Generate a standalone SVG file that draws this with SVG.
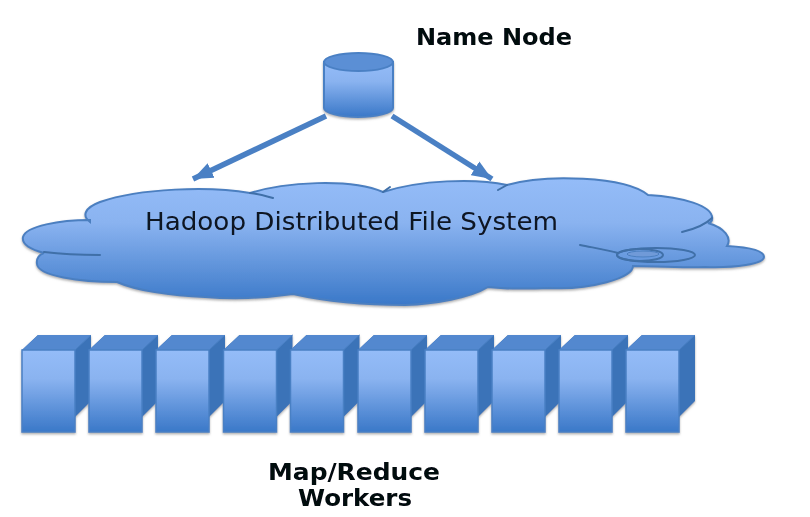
<svg xmlns="http://www.w3.org/2000/svg" xmlns:xlink="http://www.w3.org/1999/xlink" width="810" height="517" viewBox="0 0 810 517">
<style>
text{font-family:"DejaVu Sans","Liberation Sans",sans-serif;fill:#0b1320}
.b{font-weight:700;font-size:23px;fill:#05070c}
.l{fill:none;stroke:#3f6fa8;stroke-width:2;stroke-linecap:round}
.c{fill:none;stroke:#4a80c4;stroke-width:5.5}
</style>
<defs>
<linearGradient id="g" x1="0" y1="0" x2="0" y2="1"><stop offset="0" stop-color="#94bcf8"/><stop offset=".35" stop-color="#8ab3f0"/><stop offset="1" stop-color="#3a78c8"/></linearGradient>
<filter id="s" x="-5%" y="-5%" width="110%" height="115%"><feDropShadow dx="0" dy="1.5" stdDeviation="1.2" flood-color="#777" flood-opacity=".6"/></filter>
<filter id="bl" x="-5%" y="-5%" width="110%" height="110%"><feGaussianBlur stdDeviation=".5"/></filter>
<marker id="a" markerUnits="userSpaceOnUse" markerWidth="22" markerHeight="18" refX="20" refY="9" orient="auto"><path d="M0 1L20 9L0 17Z" fill="#4a80c4"/></marker>
<g id="srv"><path d="M0 15L16 0H69V66L53 82V15Z" fill="#3b73b8"/><path d="M0 15L16 0H69L53 15Z" fill="#5288cf"/><rect y="15" width="53" height="82" fill="url(#g)" stroke="#4a80c4" stroke-width="1.5"/><path d="M53 15L69 0" stroke="#4a80c4" stroke-width="1"/></g>
</defs>
<rect width="810" height="517" fill="#fff"/>
<g id="connectors">
<path class="c" d="M326 116L193 179" marker-end="url(#a)"/>
<path class="c" d="M392 116L492 179" marker-end="url(#a)"/>
</g>
<g id="hdfs-cloud">
<path filter="url(#s)" fill="url(#g)" stroke="#4b7fc0" stroke-width="2" d="M90 222C82 216 84 208 100 202C140 188 210 186 250 193C285 182 350 178 383 192C420 180 475 178 507 185C545 174 625 176 648 195C680 197 715 205 712 220C710 224 708 223 708 223C725 228 732 238 727 246C745 247 764 250 764 257C764 264 735 268 705 267C680 268 650 266 633 266C633 278 590 290 550 288C525 289 505 289 488 287C470 298 435 304 405 305C360 305 320 300 293 294C265 298 230 299 205 297C170 296 135 290 117 282C80 282 38 276 37 264C36 258 40 254 44 253C25 248 22 242 23 237C26 226 60 220 90 220Z"/>
<g filter="url(#bl)">
<path class="l" d="M44 252C60 254 80 255 100 255"/>
<path class="l" d="M250 193C258 194 266 196 273 198"/>
<path class="l" d="M383 192L390 187"/>
<path class="l" d="M498 190L507 185"/>
<path class="l" d="M682 232C695 229 705 225 712 218"/>
<path class="l" d="M580 245C595 248 608 250 618 253"/>
<ellipse class="l" cx="656" cy="255" rx="39" ry="7" stroke-width="1.5"/>
<ellipse class="l" cx="640" cy="255" rx="23" ry="6"/>
<ellipse cx="643" cy="254" rx="16" ry="3" fill="#6f9ad8" stroke="#4b7fc0"/>
</g>
<text x="145" y="230" font-size="24" filter="url(#bl)" textLength="413" lengthAdjust="spacingAndGlyphs">Hadoop Distributed File System</text>
</g>
<g id="name-node">
<path filter="url(#s)" d="M324 62V108C324 113 340 117 358 117C376 117 393 113 393 108V62Z" fill="url(#g)" stroke="#4a80c4" stroke-width="2"/>
<ellipse cx="358.500" cy="62" rx="34.500" ry="9" fill="#5b8fd5" stroke="#4a80c4" stroke-width="2"/>
</g>
<g id="name-node-label"><text class="b" x="416" y="45" filter="url(#bl)" textLength="156" lengthAdjust="spacingAndGlyphs">Name Node</text></g>
<g id="workers" filter="url(#s)">
<use xlink:href="#srv" href="#srv" x="22" y="335"/>
<use xlink:href="#srv" href="#srv" x="89" y="335"/>
<use xlink:href="#srv" href="#srv" x="156" y="335"/>
<use xlink:href="#srv" href="#srv" x="223.500" y="335"/>
<use xlink:href="#srv" href="#srv" x="290.500" y="335"/>
<use xlink:href="#srv" href="#srv" x="358" y="335"/>
<use xlink:href="#srv" href="#srv" x="425" y="335"/>
<use xlink:href="#srv" href="#srv" x="492" y="335"/>
<use xlink:href="#srv" href="#srv" x="559" y="335"/>
<use xlink:href="#srv" href="#srv" x="626" y="335"/>
</g>
<g id="workers-label" filter="url(#bl)">
<text class="b" x="268" y="480" textLength="172" lengthAdjust="spacingAndGlyphs">Map/Reduce</text>
<text class="b" x="298" y="506" textLength="114" lengthAdjust="spacingAndGlyphs">Workers</text>
</g>
</svg>
